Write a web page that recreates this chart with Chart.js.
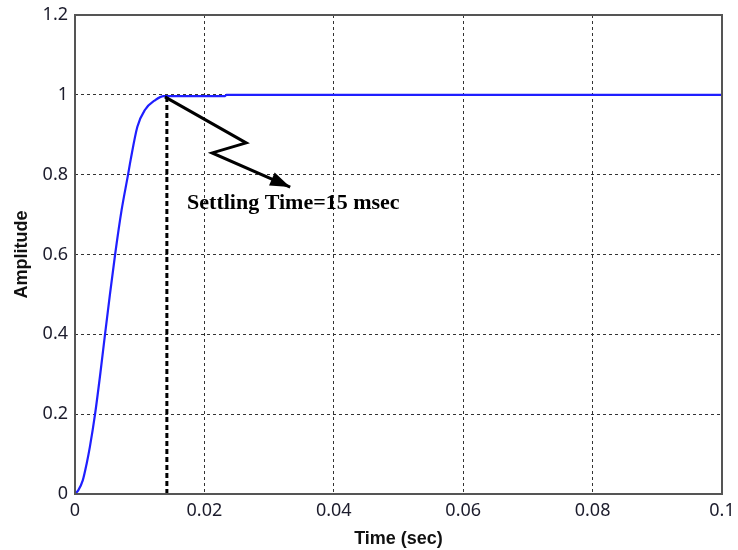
<!DOCTYPE html>
<html>
<head>
<meta charset="utf-8">
<script src="https://cdn.jsdelivr.net/npm/chart.js@4"></script>
<style>
  html, body { margin: 0; padding: 0; background: #fff; }
  #wrap { width: 738px; height: 550px; }
</style>
</head>
<body>
<div id="wrap"><canvas id="stepChart" width="738" height="550"></canvas></div>
<script>
// step response (time in sec)
const timeSec = [0, 0.0005, 0.0012, 0.0018, 0.0023, 0.0031, 0.0039, 0.00464, 0.0054, 0.0062,
  0.0072, 0.0082, 0.0086, 0.00964, 0.0108, 0.0124, 0.0137, 0.0145, 0.0232, 0.0234, 0.1];
const amplitude = [0, 0.009, 0.034, 0.076, 0.118, 0.2, 0.3, 0.4, 0.5, 0.6,
  0.711, 0.8, 0.837, 0.92, 0.962, 0.987, 0.997, 0.997, 0.997, 1.0, 1.0];

const xTicks = [0, 0.02, 0.04, 0.06, 0.08, 0.1];
const xTickLabels = ['0', '0.02', '0.04', '0.06', '0.08', '0.1'];
const yTicks = [0, 0.2, 0.4, 0.6, 0.8, 1, 1.2];
const yTickLabels = ['0', '0.2', '0.4', '0.6', '0.8', '1', '1.2'];

// annotation: settling marker + zigzag arrow, in data units
const settleTime = 0.0142;
const settleTop = 0.995;
const arrowX = [0.0139, 0.02645, 0.0212, 0.03326];
const arrowY = [0.995, 0.8796, 0.8545, 0.769];
const noteText = 'Settling Time=15 msec';
const noteAt = [0.01732, 0.729];

function labelFor(list, labels, v) {
  const i = list.findIndex(t => Math.abs(t - v) < 1e-9);
  return i >= 0 ? labels[i] : '';
}

const boxPlugin = {
  id: 'box',
  afterDatasetsDraw(chart) {
    const { ctx, chartArea: a, scales: { x, y } } = chart;
    ctx.save();

    // settling time dashed marker
    ctx.strokeStyle = '#000';
    ctx.lineWidth = 3;
    ctx.setLineDash([5, 3]);
    ctx.beginPath();
    ctx.moveTo(x.getPixelForValue(settleTime), y.getPixelForValue(0));
    ctx.lineTo(x.getPixelForValue(settleTime), y.getPixelForValue(settleTop));
    ctx.stroke();

    // zigzag arrow
    ctx.setLineDash([]);
    ctx.lineWidth = 3;
    ctx.lineJoin = 'miter';
    ctx.beginPath();
    arrowX.forEach((t, i) => {
      const px = x.getPixelForValue(t), py = y.getPixelForValue(arrowY[i]);
      if (i === 0) ctx.moveTo(px, py); else ctx.lineTo(px, py);
    });
    ctx.stroke();

    // arrow head
    const n = arrowX.length;
    const tx = x.getPixelForValue(arrowX[n - 1]), ty = y.getPixelForValue(arrowY[n - 1]);
    const fx = x.getPixelForValue(arrowX[n - 2]), fy = y.getPixelForValue(arrowY[n - 2]);
    const ang = Math.atan2(ty - fy, tx - fx);
    const len = 20, half = 7;
    ctx.fillStyle = '#000';
    ctx.beginPath();
    ctx.moveTo(tx, ty);
    ctx.lineTo(tx - len * Math.cos(ang) + half * Math.sin(ang), ty - len * Math.sin(ang) - half * Math.cos(ang));
    ctx.lineTo(tx - len * Math.cos(ang) - half * Math.sin(ang), ty - len * Math.sin(ang) + half * Math.cos(ang));
    ctx.closePath();
    ctx.fill();

    // note
    ctx.font = 'bold 22px "Liberation Serif", "Times New Roman", serif';
    ctx.textBaseline = 'middle';
    ctx.textAlign = 'left';
    ctx.fillText(noteText, x.getPixelForValue(noteAt[0]), y.getPixelForValue(noteAt[1]));

    // frame
    ctx.strokeStyle = '#555';
    ctx.lineWidth = 2;
    ctx.strokeRect(a.left, a.top, a.right - a.left, a.bottom - a.top);
    ctx.restore();
  }
};

const ctx = document.getElementById('stepChart').getContext('2d');
new Chart(ctx, {
  type: 'line',
  data: {
    datasets: [{
      data: timeSec.map((t, i) => ({ x: t, y: amplitude[i] })),
      borderColor: '#1f1fff',
      borderWidth: 2.2,
      pointRadius: 0,
      cubicInterpolationMode: 'monotone',
      fill: false
    }]
  },
  options: {
    responsive: false,
    animation: false,
    layout: { padding: { top: 15, right: 16 } },
    plugins: { legend: { display: false }, tooltip: { enabled: false } },
    scales: {
      x: {
        type: 'linear',
        min: 0,
        max: 0.1,
        afterBuildTicks: s => { s.ticks = xTicks.map(v => ({ value: v })); },
        afterFit: s => { s.height = 56; s.paddingLeft = 0; s.paddingRight = 0; },
        ticks: {
          color: '#1c1c2c',
          padding: 6,
          maxRotation: 0,
          font: { family: '"Noto Sans", "Open Sans", sans-serif', size: 18 },
          callback: v => labelFor(xTicks, xTickLabels, v)
        },
        grid: { color: '#333', lineWidth: 1, drawTicks: false },
        border: { display: false, dash: [3, 3] },
        title: {
          display: true,
          text: 'Time (sec)',
          color: '#111',
          padding: { top: 0, bottom: 0 },
          font: { family: '"Liberation Sans", Arial, sans-serif', size: 18, weight: 'bold' }
        }
      },
      y: {
        min: 0,
        max: 1.2,
        afterBuildTicks: s => { s.ticks = yTicks.map(v => ({ value: v })); },
        afterFit: s => { s.width = 75; s.paddingTop = 0; s.paddingBottom = 0; },
        ticks: {
          color: '#1c1c2c',
          padding: 7,
          font: { family: '"Noto Sans", "Open Sans", sans-serif', size: 18 },
          callback: v => labelFor(yTicks, yTickLabels, v)
        },
        grid: { color: '#333', lineWidth: 1, drawTicks: false },
        border: { display: false, dash: [3, 3] },
        title: {
          display: true,
          text: 'Amplitude',
          color: '#111',
          padding: { top: 11, bottom: 0 },
          font: { family: '"Liberation Sans", Arial, sans-serif', size: 18, weight: 'bold' }
        }
      }
    }
  },
  plugins: [boxPlugin]
});
</script>
</body>
</html>
